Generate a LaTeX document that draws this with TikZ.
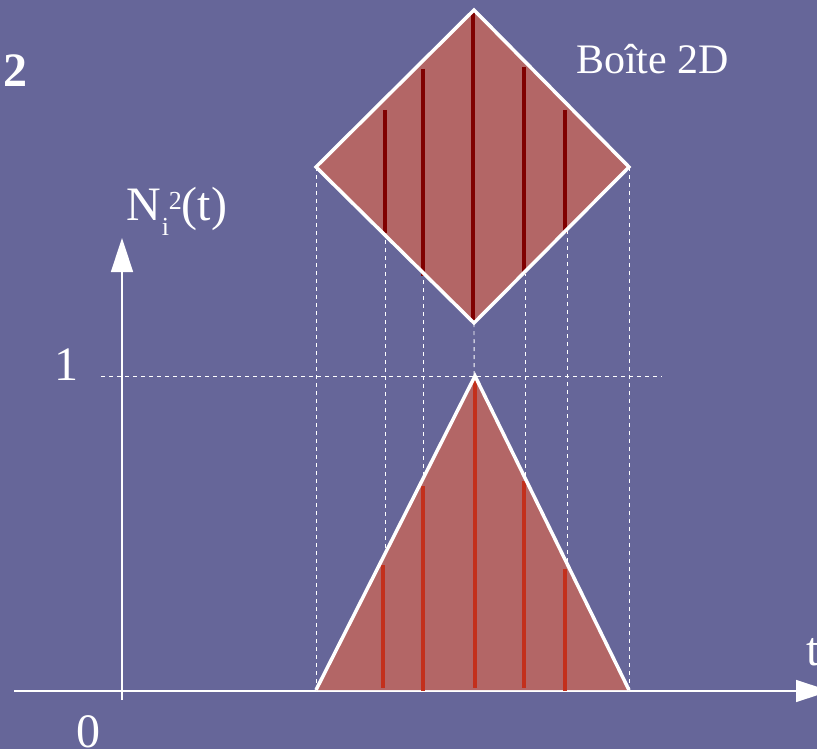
\documentclass[tikz,border=0pt]{standalone}
\usepackage{fontspec}
\setmainfont{Liberation Serif}
\usepackage{xcolor}
\definecolor{slate}{RGB}{102,102,153}
\definecolor{boxfill}{RGB}{179,102,102}
\definecolor{darkred}{RGB}{128,0,0}
\definecolor{brightred}{RGB}{195,48,28}
\usetikzlibrary{positioning}
\usetikzlibrary{arrows.meta}
\tikzset{
axis_line/.style={draw=white, line width=1.5pt, -{Triangle[length=34pt, width=22pt]}},
guide_line/.style={draw=white, dash pattern=on 4pt off 4pt, line width=0.9pt},
hat_fill/.style={fill=boxfill, draw=none},
hat_edge/.style={draw=white, line width=3.5pt, line join=miter},
bar_dark/.style={draw=darkred, line width=4pt},
bar_light/.style={draw=brightred, line width=4pt},
axis_text/.style={text=white, inner sep=0pt, font=\fontsize{48}{56}\selectfont},
title_text/.style={text=white, inner sep=0pt, font=\fontsize{42}{50}\selectfont}
}

\begin{document}
\begin{tikzpicture}[x=1pt, y=-1pt]
    \useasboundingbox (0,0) rectangle (817,749);
    \fill[slate] (0,0) rectangle (817,749);

    % axes
    \coordinate (origin) at (122,691);
    \coordinate (t_start) at (14,691);
    \coordinate (t_end) at (830,691);
    \coordinate (n_start) at (122,700);
    \coordinate (n_end) at (122,238);

    % corners of the hat function and of the box
    \coordinate (tri_left) at (316,690);
    \coordinate (tri_top) at (475,376);
    \coordinate (tri_right) at (629,690);
    \coordinate (dia_top) at (474,10);
    \coordinate (dia_left) at (316,167);
    \coordinate (dia_bottom) at (474,323);
    \coordinate (dia_right) at (629,167);

    % guides
    \coordinate (one_start) at (101,376);
    \coordinate (one_end) at (662,376);
    \draw[guide_line] (one_start) -- (one_end);
    \draw[guide_line] (dia_left) -- (316,691);
    \draw[guide_line] (385,232) -- (385,691);
    \draw[guide_line] (423,272) -- (423,691);
    \draw[guide_line] (dia_bottom) -- (475,691);
    \draw[guide_line] (525,272) -- (525,695);
    \draw[guide_line] (567,230) -- (567,691);
    \draw[guide_line] (dia_right) -- (629,691);

    \draw[axis_line] (t_start) -- (t_end);
    \draw[axis_line] (n_start) -- (n_end);

    % hat function
    \fill[hat_fill] (tri_left) -- (tri_top) -- (tri_right) -- cycle;
    \draw[bar_light] (383,565) -- (383,688);
    \draw[bar_light] (423,486) -- (423,691);
    \draw[bar_light] (475,380) -- (475,688);
    \draw[bar_light] (524,481) -- (524,688);
    \draw[bar_light] (565,569) -- (565,691);
    \draw[hat_edge] (tri_left) -- (tri_top) -- (tri_right);

    % 2D box
    \fill[hat_fill] (dia_top) -- (dia_right) -- (dia_bottom) -- (dia_left) -- cycle;
    \draw[bar_dark] (385,110) -- (385,233);
    \draw[bar_dark] (423,69) -- (423,276);
    \draw[bar_dark] (473,11) -- (473,323);
    \draw[bar_dark] (524,67) -- (524,274);
    \draw[bar_dark] (565,110) -- (565,233);
    \draw[hat_edge] (dia_top) -- (dia_right) -- (dia_bottom) -- (dia_left) -- cycle;

    % labels
    \node[axis_text, font=\fontsize{48}{56}\selectfont\bfseries, anchor=base] (panel_nr) at (16,87) {2};
    \node[title_text, anchor=base west] (box_name) at (576,74) {Boîte 2D};
    \node[axis_text, anchor=base west] (n_name) at (126,220)
        {N\rlap{\raisebox{-15pt}{\fontsize{26}{30}\selectfont\hspace{1pt}i}}\raisebox{10pt}{\fontsize{26}{30}\selectfont\hspace{8pt}2}(t)};
    \node[axis_text, anchor=base] (one_mark) at (66,380) {1};
    \node[axis_text, anchor=base] (zero_mark) at (88,747) {0};
    \node[axis_text, anchor=base west] (t_name) at (806,665) {t};
\end{tikzpicture}
\end{document}
